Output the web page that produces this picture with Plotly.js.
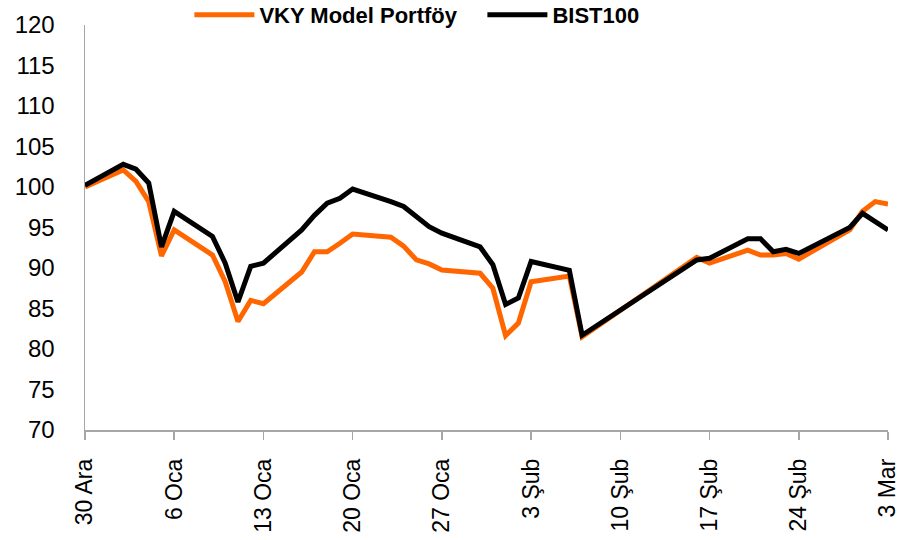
<!DOCTYPE html>
<html>
<head>
<meta charset="utf-8">
<script src="https://cdn.plot.ly/plotly-3.0.1.min.js"></script>
<style>html,body{margin:0;padding:0;background:#fff;}#chart{width:918px;height:540px;}</style>
</head>
<body>
<div id="chart"></div>
<script>
// Trading days (2016-12-30 .. 2017-03-03) at visible vertices
const dates = ['2016-12-30','2017-01-02','2017-01-03','2017-01-04','2017-01-05','2017-01-06',
  '2017-01-09','2017-01-10','2017-01-11','2017-01-12','2017-01-13',
  '2017-01-16','2017-01-17','2017-01-18','2017-01-19','2017-01-20',
  '2017-01-23','2017-01-24','2017-01-25','2017-01-26','2017-01-27',
  '2017-01-30','2017-01-31','2017-02-01','2017-02-02','2017-02-03',
  '2017-02-06','2017-02-07','2017-02-16','2017-02-17',
  '2017-02-20','2017-02-21','2017-02-22','2017-02-23','2017-02-24',
  '2017-02-28','2017-03-01','2017-03-02','2017-03-03'];
const vkyModel = [100.0,102.1,100.7,98.2,91.5,94.7,
  91.6,88.3,83.4,86.0,85.6,
  89.5,92.0,92.0,93.05,94.2,
  93.8,92.7,91.0,90.5,89.75,
  89.35,87.5,81.65,83.2,88.3,
  89.0,81.5,91.3,90.6,
  92.2,91.6,91.6,91.8,91.1,
  94.7,97.0,98.2,97.9];
const bist100 = [100.2,102.8,102.2,100.5,92.6,97.0,
  93.9,90.6,85.8,90.2,90.6,
  94.7,96.5,98.0,98.6,99.75,
  98.2,97.6,null,95.1,94.3,
  92.6,90.4,85.5,86.3,90.8,
  89.7,81.7,91.0,91.2,
  93.6,93.6,92.0,92.3,91.8,
  95.0,96.75,null,94.7];
const seriesNames = ['VKY Model Portföy','BIST100'];
const tickDates = ['2016-12-30','2017-01-06','2017-01-13','2017-01-20','2017-01-27',
  '2017-02-03','2017-02-10','2017-02-17','2017-02-24','2017-03-03'];
const tickLabels = ['30 Ara','6 Oca','13 Oca','20 Oca','27 Oca','3 Şub','10 Şub','17 Şub','24 Şub','3 Mar'];

const traces = [
  {x: dates, y: vkyModel, name: seriesNames[0], type: 'scatter', mode: 'lines',
   connectgaps: true, line: {color: '#FF6600', width: 5}},
  {x: dates, y: bist100, name: seriesNames[1], type: 'scatter', mode: 'lines',
   connectgaps: true, line: {color: '#000000', width: 5}}
];
const axisColor = '#a6a6a6';
const layout = {
  width: 918, height: 540,
  margin: {l: 85, r: 30, t: 25, b: 110, autoexpand: false},
  paper_bgcolor: '#ffffff', plot_bgcolor: '#ffffff',
  showlegend: true,
  legend: {orientation: 'h', x: 0.13, xanchor: 'left', y: 1.025, yanchor: 'middle',
    font: {family: 'Liberation Sans', size: 22, color: '#000', weight: 'bold'},
    itemwidth: 60, entrywidth: 218, bgcolor: 'rgba(0,0,0,0)'},
  xaxis: {type: 'date', range: ['2016-12-30','2017-03-03'],
    tickmode: 'array', tickvals: tickDates, ticktext: tickLabels, tickangle: -90,
    showgrid: false, zeroline: false, showline: true, linecolor: axisColor, linewidth: 1.5,
    ticks: 'outside', ticklen: 8, tickcolor: axisColor, tickwidth: 1.5,
    ticklabelstandoff: 10,
    tickfont: {family: 'Liberation Sans', size: 23, color: '#000'}},
  yaxis: {range: [70, 120], dtick: 5, tick0: 70,
    showgrid: false, zeroline: false, showline: true, linecolor: axisColor, linewidth: 1.5,
    ticks: '', ticklabelstandoff: 24,
    tickfont: {family: 'Liberation Sans', size: 24, color: '#000'}}
};
Plotly.newPlot('chart', traces, layout, {displayModeBar: false, staticPlot: true});
</script>
</body>
</html>
